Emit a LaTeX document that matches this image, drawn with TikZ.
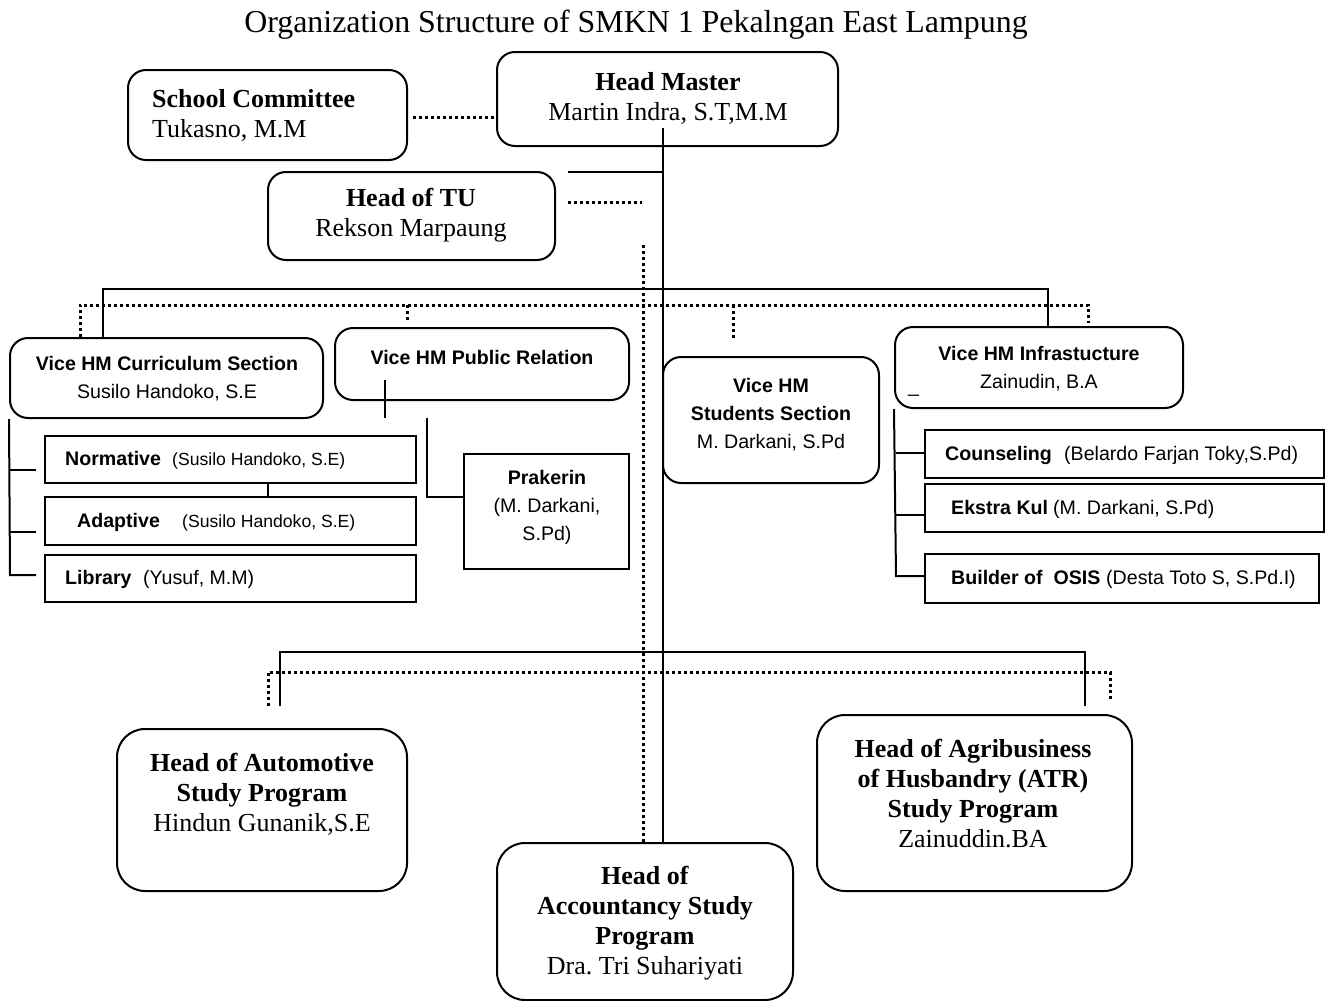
\documentclass[tikz,border=0pt]{standalone}
\usepackage{fontspec}
\setmainfont{Liberation Serif}
\newfontfamily\arial{Liberation Sans}
\usetikzlibrary{fit}
\frenchspacing
\begin{document}
\frenchspacing
\begin{tikzpicture}[x=1pt,y=-1pt,
  rbox/.style={draw, line width=2pt, rounded corners=18pt, inner sep=0pt},
  bbox/.style={draw, line width=2pt, rounded corners=28pt, inner sep=0pt},
  sbox/.style={draw, line width=2pt, inner sep=0pt},
  conn/.style={line width=2pt},
  dotl/.style={line width=3pt, dash pattern=on 3pt off 3pt},
  tm/.style={font=\fontsize{26}{30}\selectfont, align=center, inner sep=0pt},
  ar/.style={font=\arial\fontsize{19.6}{28}\selectfont, align=center, inner sep=0pt},
  sm/.style={font=\arial\fontsize{17.6}{20}\selectfont}]
\useasboundingbox (0,0) rectangle (1331,1001);

% title
\node[tm, font=\fontsize{31.9}{36}\selectfont] (title) at (636,25) {Organization Structure of SMKN 1 Pekalngan East Lampung};

% boxes
\node[rbox, fit={(497,52) (838,146)}] (hm) {};
\node[rbox, fit={(128,70) (407,160)}] (sc) {};
\node[rbox, fit={(268,172) (555,260)}] (tu) {};
\node[rbox, fit={(10,338) (323,418)}] (cur) {};
\node[rbox, fit={(335,328) (629,400)}] (pr) {};
\node[rbox, fit={(663,357) (879,483)}] (stu) {};
\node[rbox, fit={(895,327) (1183,408)}] (inf) {};
\node[sbox, fit={(45,436) (416,483)}] (nor) {};
\node[sbox, fit={(45,497) (416,545)}] (ada) {};
\node[sbox, fit={(45,555) (416,602)}] (lib) {};
\node[sbox, fit={(464,454) (629,569)}] (pra) {};
\node[sbox, fit={(925,430) (1324,478)}] (cou) {};
\node[sbox, fit={(925,484) (1324,532)}] (eks) {};
\node[sbox, fit={(925,554) (1319,603)}] (osi) {};
\node[bbox, fit={(117,729) (407,891)}] (aut) {};
\node[bbox, fit={(497,843) (793,1000)}] (acc) {};
\node[bbox, fit={(817,715) (1132,891)}] (agr) {};

% texts
\node[tm] (hmt) at (668,98) {\textbf{Head Master}\\Martin Indra, S.T,M.M};
\node[tm, align=left, anchor=west] (sct) at (152,115.5) {\textbf{School Committee}\\Tukasno, M.M};
\node[tm] (tut) at (411,215) {\textbf{Head of TU}\\Rekson Marpaung};
\node[ar] (curt) at (167,379) {\textbf{Vice HM Curriculum Section}\\Susilo Handoko, S.E};
\node[ar] (prt) at (482,357) {\textbf{Vice HM Public Relation}};
\node[ar] (stut) at (771,415) {\textbf{Vice HM}\\\textbf{Students Section}\\M. Darkani, S.Pd};
\node[ar] (inft) at (1039,369) {\textbf{Vice HM Infrastucture}\\Zainudin, B.A};
\node[ar, anchor=base west] (us) at (908,392) {\_};
\node[ar, anchor=west] (nort) at (65,460) {\makebox[107pt][l]{\bfseries Normative}{\fontsize{17.6}{20}\selectfont(Susilo Handoko, S.E)}};
\node[ar, anchor=west] (adat) at (77,522) {\makebox[105pt][l]{\bfseries Adaptive}{\fontsize{17.6}{20}\selectfont(Susilo Handoko, S.E)}};
\node[ar, anchor=west] (libt) at (65,579) {\makebox[78pt][l]{\bfseries Library}(Yusuf, M.M)};
\node[ar] (prat) at (547,507) {\textbf{Prakerin}\\(M. Darkani,\\S.Pd)};
\node[ar, anchor=west] (cout) at (945,455) {\makebox[119pt][l]{\bfseries Counseling}(Belardo Farjan Toky,S.Pd)};
\node[ar, anchor=west] (ekst) at (951,509) {\makebox[102pt][l]{\bfseries Ekstra Kul}(M. Darkani, S.Pd)};
\node[ar, anchor=west] (osit) at (951,579) {\makebox[155pt][l]{\bfseries Builder of\ \ OSIS}(Desta Toto S, S.Pd.I)};
\node[tm] (autt) at (262,794) {\textbf{Head of Automotive}\\\textbf{Study Program}\\Hindun Gunanik,S.E};
\node[tm] (acct) at (645,923) {\textbf{Head of}\\\textbf{Accountancy Study}\\\textbf{Program}\\Dra.\ Tri Suhariyati};
\node[tm] (agrt) at (973,794) {\textbf{Head of Agribusiness}\\\textbf{of Husbandry (ATR)}\\\textbf{Study Program}\\Zainuddin.BA};

% connectors
\coordinate (sp) at (663,128);
\draw[conn] (sp) -- (sp |- acc.north);
\coordinate (scD) at (413,117);
\draw[dotl] (scD) -- (scD -| hm.west);
\coordinate (tuS) at (568,172);
\draw[conn] (tuS) -- (tuS -| sp);
\coordinate (tuD) at (568,202);
\coordinate (tuDe) at (642,202);
\draw[dotl] (tuD) -- (tuDe);
\coordinate (dsp) at (643,245);
\draw[dotl] (dsp) -- (dsp |- acc.north);

% upper buses
\coordinate (b1L) at (103,289);
\coordinate (b1R) at (1048,289);
\draw[conn] (b1L |- cur.north) -- (b1L) -- (b1R) -- (b1R |- inf.north);
\coordinate (b2L) at (80,305);
\coordinate (b2R) at (1088,305);
\coordinate (b2Re) at (1088,323);
\draw[dotl] (b2L |- cur.north) -- (b2L) -- (b2R) -- (b2Re);
\coordinate (b2a) at (407,305);
\coordinate (b2ae) at (407,323);
\draw[dotl] (b2a) -- (b2ae);
\coordinate (b2b) at (733,305);
\coordinate (b2be) at (733,339);
\draw[dotl] (b2b) -- (b2be);

% curriculum bracket
\coordinate (cb1) at (10,470);
\coordinate (cb2) at (10,532);
\coordinate (cb3) at (10,575);
\draw[conn] (cur.south west) -- (cb3) -- ++(26,0);
\draw[conn] (cb1) -- ++(26,0);
\draw[conn] (cb2) -- ++(26,0);
\coordinate (na) at (268,0);
\draw[conn] (nor.south -| na) -- (ada.north -| na);

% public relation
\coordinate (pr1) at (385,380);
\coordinate (pr2) at (385,418);
\draw[conn] (pr1) -- (pr2);
\coordinate (pr3) at (427,418);
\coordinate (pr4) at (427,497);
\draw[conn] (pr3) -- (pr4) -- (pr4 -| pra.west);

% infrastructure bracket
\coordinate (ib1) at (896,453);
\coordinate (ib2) at (896,515);
\coordinate (ib3) at (896,576);
\draw[conn] (inf.south west) -- (ib3) -- (ib3 -| osi.west);
\draw[conn] (ib1) -- (ib1 -| cou.west);
\draw[conn] (ib2) -- (ib2 -| eks.west);

% lower buses
\coordinate (l1L) at (280,652);
\coordinate (l1R) at (1085,652);
\draw[conn] (l1L |- 0,706) -- (l1L) -- (l1R) -- (l1R |- 0,706);
\coordinate (l2L) at (268,672);
\coordinate (l2R) at (1110,672);
\draw[dotl] (l2L |- 0,706) -- (l2L) -- (l2R) -- (l2R |- 0,700);
\end{tikzpicture}
\end{document}
